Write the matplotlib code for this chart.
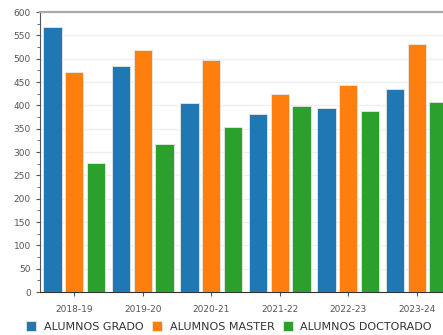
import numpy as np
import matplotlib.pyplot as plt

cursos = ["2018-19", "2019-20", "2020-21", "2021-22", "2022-23", "2023-24"]
grado = [568, 484, 405, 381, 394, 435]
master = [471, 519, 497, 424, 443, 531]
doctorado = [276, 317, 354, 398, 388, 408]
series = ["ALUMNOS GRADO", "ALUMNOS MASTER", "ALUMNOS DOCTORADO"]
colores = ["#1f77b4", "#ff7f0e", "#2ca02c"]

W, H = 443, 335
fig = plt.figure(figsize=(W / 100, H / 100), dpi=100)
ax = fig.add_axes([40 / W, 43 / H, 411 / W, 280 / H])

x = np.arange(len(cursos))
for i, (vals, nombre, c) in enumerate(zip([grado, master, doctorado], series, colores)):
    ax.bar(x + (i - 1) * 0.315, vals, width=0.27, color=c, edgecolor="#e8e8e8",
           linewidth=0.6, label=nombre, zorder=3)

ax.set_xlim(-0.5, 5.5)
ax.set_ylim(0, 600)
ax.set_yticks(np.arange(0, 601, 50))
ax.set_yticks(np.arange(25, 600, 50), minor=True)
ax.set_xticks(x)
ax.set_xticklabels(cursos)
ax.yaxis.grid(True, color="#efefef", linewidth=1, zorder=0)
ax.set_axisbelow(True)

ax.spines["right"].set_visible(False)
ax.spines["top"].set_color("#aaaaaa")
ax.spines["top"].set_linewidth(1.6)
ax.spines["left"].set_color("#555555")
ax.spines["bottom"].set_color("#333333")
ax.tick_params(axis="both", labelsize=6.5, labelcolor="#555555", color="#555555",
               length=3, width=0.8)
ax.tick_params(axis="y", which="minor", length=2, color="#555555")
ax.tick_params(axis="x", pad=6)

fig.legend(loc="lower center", bbox_to_anchor=(0.517, -0.02), ncol=3, frameon=False,
           fontsize=8, handlelength=0.9, handleheight=1.1, handletextpad=0.7,
           columnspacing=0.75, labelcolor="#333333")

fig.savefig("out.png", dpi=100)
